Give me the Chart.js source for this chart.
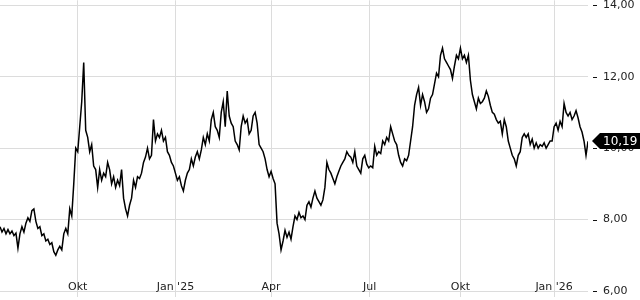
<!DOCTYPE html>
<html>
<head>
<meta charset="utf-8">
<script src="https://cdn.jsdelivr.net/npm/chart.js@4/dist/chart.umd.min.js"></script>
<style>
    html, body { margin: 0; padding: 0; background: #fff; }
    #kursChart { display: block; }
</style>
</head>
<body>
<canvas id="kursChart" width="640" height="300"></canvas>
<script>
    'use strict';

    // Schlusskurse (ein Wert je Handelstag-Abschnitt)
    let prices = [
        7.8, 7.65, 7.75, 7.6, 7.72, 7.6, 7.68, 7.55, 7.62, 7.2,
        7.6, 7.8, 7.65, 7.9, 8.05, 7.95, 8.25, 8.3, 7.95, 7.75,
        7.8, 7.55, 7.6, 7.4, 7.45, 7.3, 7.35, 7.1, 7.0, 7.15,
        7.25, 7.15, 7.6, 7.75, 7.6, 8.3, 8.1, 9.0, 10.0, 9.9,
        10.6, 11.3, 12.4, 10.5, 10.3, 9.9, 10.1, 9.5, 9.4, 8.9,
        9.4, 9.1, 9.3, 9.2, 9.6, 9.4, 9.0, 9.2, 8.9, 9.1,
        8.95, 9.4, 8.6, 8.3, 8.1, 8.4, 8.6, 9.1, 8.9, 9.2,
        9.15, 9.3, 9.6, 9.75, 10.0, 9.7, 9.8, 10.8, 10.2, 10.4,
        10.3, 10.5, 10.2, 10.3, 9.9, 9.8, 9.6, 9.5, 9.3, 9.1,
        9.2, 8.95, 8.8, 9.1, 9.3, 9.4, 9.7, 9.5, 9.75, 9.9,
        9.7, 9.95, 10.3, 10.1, 10.4, 10.2, 10.8, 11.0, 10.6, 10.5,
        10.3, 11.0, 11.3, 10.6, 11.6, 10.9, 10.7, 10.6, 10.2, 10.1,
        9.95, 10.6, 10.9, 10.7, 10.8, 10.4, 10.5, 10.9, 11.0, 10.7,
        10.1, 10.0, 9.9, 9.7, 9.4, 9.2, 9.35, 9.15, 9.0, 7.9,
        7.6, 7.15, 7.4, 7.7, 7.5, 7.65, 7.45, 7.8, 8.1, 8.0,
        8.2, 8.05, 8.1, 8.0, 8.4, 8.5, 8.35, 8.6, 8.8, 8.6,
        8.5, 8.4, 8.55, 8.9, 9.6, 9.4, 9.3, 9.15, 9.0, 9.2,
        9.35, 9.5, 9.6, 9.7, 9.9, 9.8, 9.75, 9.6, 9.9, 9.5,
        9.4, 9.3, 9.7, 9.8, 9.55, 9.45, 9.5, 9.45, 10.05, 9.8,
        9.9, 9.85, 10.2, 10.1, 10.3, 10.2, 10.6, 10.4, 10.2, 10.1,
        9.8, 9.6, 9.5, 9.7, 9.65, 9.8, 10.2, 10.6, 11.2, 11.5,
        11.7, 11.2, 11.5, 11.3, 11.0, 11.1, 11.4, 11.5, 11.8, 12.1,
        12.0, 12.6, 12.8, 12.5, 12.4, 12.3, 12.2, 11.95, 12.3, 12.6,
        12.5, 12.8, 12.5, 12.6, 12.4, 12.6, 11.9, 11.5, 11.3, 11.1,
        11.4, 11.25, 11.3, 11.4, 11.6, 11.45, 11.2, 11.0, 10.95, 10.8,
        10.7, 10.75, 10.4, 10.8, 10.6, 10.2, 10.0, 9.8, 9.7, 9.5,
        9.8, 9.9, 10.3, 10.4, 10.3, 10.4, 10.1, 10.25, 10.0, 10.15,
        10.0, 10.1, 10.05, 10.15, 10.0, 10.1, 10.2, 10.2, 10.6, 10.7,
        10.5, 10.75, 10.6, 11.25, 11.0, 10.9, 11.0, 10.8, 10.9, 11.05,
        10.85, 10.6, 10.45, 10.2, 9.8, 10.19
    ];

    // Position der Monatsmarken (Index in prices) und ihre Beschriftung
    let tickDays = [39, 88, 136, 185.5, 231, 278];
    let tickLabels = ['Okt', "Jan '25", 'Apr', 'Jul', 'Okt', "Jan '26"];

    // Kursachse
    let yTicks = [6, 8, 10, 12, 14];

    let fmt = function (v) {
        return v.toFixed(2).replace('.', ',');
    };

    let _fontFamily = '"DejaVu Sans", sans-serif';

    let kursMarker = {
        id: 'kursMarker',
        afterDraw: function (chart) {
            let ctx = chart.ctx,
                area = chart.chartArea,
                yScale = chart.scales.y;

            ctx.save();

            // kleine Striche vor den Achsenwerten
            ctx.strokeStyle = '#111';
            ctx.lineWidth = 1;
            yScale.ticks.forEach(function (t) {
                let py = Math.round(yScale.getPixelForValue(t.value)) + 0.5;
                ctx.beginPath();
                ctx.moveTo(area.right + 5, py);
                ctx.lineTo(area.right + 9, py);
                ctx.stroke();
            });

            // letzter Kurs
            let last = prices[prices.length - 1];
            let py = Math.round(yScale.getPixelForValue(last));
            ctx.fillStyle = '#000';
            ctx.beginPath();
            ctx.moveTo(area.right + 4, py);
            ctx.lineTo(area.right + 12, py - 8);
            ctx.lineTo(chart.width, py - 8);
            ctx.lineTo(chart.width, py + 8);
            ctx.lineTo(area.right + 12, py + 8);
            ctx.closePath();
            ctx.fill();

            ctx.fillStyle = '#fff';
            ctx.font = '12px ' + _fontFamily;
            ctx.textBaseline = 'middle';
            ctx.textAlign = 'left';
            ctx.fillText(fmt(last), area.right + 15, py + 1);

            ctx.restore();
        }
    };

    let kursChart = new Chart(document.getElementById('kursChart'), {
        type: 'line',
        data: {
            datasets: [
                {
                    data: prices.map(function (v, i) { return { x: i, y: v }; }),
                    borderColor: '#000',
                    borderWidth: 1.5,
                    pointRadius: 0,
                    tension: 0,
                    fill: false
                }
            ]
        },
        options: {
            responsive: false,
            animation: false,
            layout: { padding: 0 },
            plugins: {
                legend: { display: false },
                tooltip: { enabled: false }
            },
            scales: {
                x: {
                    type: 'linear',
                    position: 'bottom',
                    min: 0,
                    max: prices.length - 1,
                    afterBuildTicks: function (axis) {
                        axis.ticks = tickDays.map(function (d) { return { value: d }; });
                    },
                    afterFit: function (axis) {
                        axis.height = 9;
                    },
                    border: { display: false },
                    grid: {
                        color: '#dcdcdc',
                        lineWidth: 1,
                        drawTicks: true,
                        tickLength: 6
                    },
                    ticks: {
                        mirror: true,
                        padding: -3,
                        autoSkip: false,
                        maxRotation: 0,
                        color: '#222',
                        font: { family: _fontFamily, size: 11 },
                        callback: function (value, index) {
                            return tickLabels[index];
                        }
                    }
                },
                y: {
                    type: 'linear',
                    position: 'right',
                    min: 6,
                    max: 14.14,
                    afterBuildTicks: function (axis) {
                        axis.ticks = yTicks.map(function (v) { return { value: v }; });
                    },
                    afterFit: function (axis) {
                        axis.width = 52;
                    },
                    border: { display: false },
                    grid: {
                        color: '#dcdcdc',
                        lineWidth: 1,
                        drawTicks: true,
                        tickLength: 15,
                        tickColor: 'transparent'
                    },
                    ticks: {
                        padding: 0,
                        color: '#222',
                        font: { family: _fontFamily, size: 11, lineHeight: 0.05 },
                        callback: function (value) {
                            return fmt(value);
                        }
                    }
                }
            }
        },
        plugins: [kursMarker]
    });
</script>
</body>
</html>
